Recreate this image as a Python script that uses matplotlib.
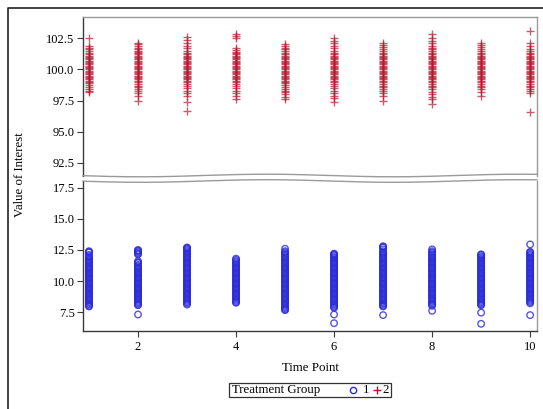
import numpy as np
import matplotlib
matplotlib.use("Agg")
import matplotlib.pyplot as plt
from matplotlib.lines import Line2D
from matplotlib.patches import Rectangle

plt.rcParams['font.family'] = ['Liberation Serif', 'DejaVu Serif']

time_points = [1, 2, 3, 4, 5, 6, 7, 8, 9, 10]

# group 1 (blue circles), one list per time point
grp1 = [
    [12.4, 12.35, 12.3, 12.1, 12.0, 11.9, 11.75, 11.7, 11.6, 11.5, 11.4, 11.3, 11.2, 11.1, 11.0, 10.9, 10.8, 10.7, 10.6, 10.5, 10.4, 10.3, 10.2, 10.1, 10.0, 9.9, 9.8, 9.7, 9.6, 9.5, 9.4, 9.3, 9.2, 9.1, 9.0, 8.9, 8.8, 8.7, 8.6, 8.5, 8.4, 8.3, 8.2, 8.1, 8.0, 7.95],
    [12.5, 12.45, 12.4, 12.3, 12.2, 12.15, 11.6, 11.5, 11.45, 11.3, 11.2, 11.1, 11.0, 10.9, 10.8, 10.7, 10.6, 10.5, 10.4, 10.3, 10.2, 10.1, 10.0, 9.9, 9.8, 9.7, 9.6, 9.5, 9.4, 9.3, 9.2, 9.1, 9.0, 8.9, 8.8, 8.7, 8.6, 8.5, 8.4, 8.3, 8.2, 8.1, 8.05, 7.3],
    [12.7, 12.65, 12.6, 12.5, 12.4, 12.3, 12.2, 12.1, 12.0, 11.9, 11.8, 11.7, 11.6, 11.5, 11.4, 11.3, 11.2, 11.1, 11.0, 10.9, 10.8, 10.7, 10.6, 10.5, 10.4, 10.3, 10.2, 10.1, 10.0, 9.9, 9.8, 9.7, 9.6, 9.5, 9.4, 9.3, 9.2, 9.1, 9.0, 8.9, 8.8, 8.7, 8.6, 8.5, 8.4, 8.3, 8.2, 8.1],
    [11.8, 11.7, 11.6, 11.5, 11.4, 11.3, 11.2, 11.1, 11.0, 10.9, 10.8, 10.7, 10.6, 10.5, 10.4, 10.3, 10.2, 10.1, 10.0, 9.9, 9.8, 9.7, 9.6, 9.5, 9.4, 9.3, 9.2, 9.1, 9.0, 8.9, 8.8, 8.7, 8.6, 8.5, 8.4, 8.3, 8.25],
    [12.6, 12.4, 12.3, 12.2, 12.1, 12.0, 11.9, 11.8, 11.7, 11.6, 11.5, 11.4, 11.3, 11.2, 11.1, 11.0, 10.9, 10.8, 10.7, 10.6, 10.5, 10.4, 10.3, 10.2, 10.1, 10.0, 9.9, 9.8, 9.7, 9.6, 9.5, 9.4, 9.3, 9.2, 9.1, 9.0, 8.9, 8.8, 8.7, 8.6, 8.5, 8.4, 8.3, 8.2, 8.1, 8.0, 7.9, 7.8, 7.7, 7.65],
    [12.2, 12.15, 12.1, 12.0, 11.9, 11.8, 11.7, 11.6, 11.5, 11.4, 11.3, 11.2, 11.1, 11.0, 10.9, 10.8, 10.7, 10.6, 10.5, 10.4, 10.3, 10.2, 10.1, 10.0, 9.9, 9.8, 9.7, 9.6, 9.5, 9.4, 9.3, 9.2, 9.1, 9.0, 8.9, 8.8, 8.7, 8.6, 8.5, 8.4, 8.3, 8.2, 8.1, 8.0, 7.9, 7.85, 7.3, 6.6],
    [12.8, 12.75, 12.7, 12.55, 12.4, 12.3, 12.2, 12.1, 12.0, 11.9, 11.8, 11.7, 11.6, 11.5, 11.4, 11.3, 11.2, 11.1, 11.0, 10.9, 10.8, 10.7, 10.6, 10.5, 10.4, 10.3, 10.2, 10.1, 10.0, 9.9, 9.8, 9.7, 9.6, 9.5, 9.4, 9.3, 9.2, 9.1, 9.0, 8.9, 8.8, 8.7, 8.6, 8.5, 8.4, 8.3, 8.2, 8.1, 8.0, 7.95, 7.25],
    [12.55, 12.4, 12.3, 12.2, 12.1, 12.0, 11.9, 11.8, 11.7, 11.6, 11.5, 11.4, 11.3, 11.2, 11.1, 11.0, 10.9, 10.8, 10.7, 10.6, 10.5, 10.4, 10.3, 10.2, 10.1, 10.0, 9.9, 9.8, 9.7, 9.6, 9.5, 9.4, 9.3, 9.2, 9.1, 9.0, 8.9, 8.8, 8.7, 8.6, 8.5, 8.4, 8.3, 8.2, 8.1, 8.0, 7.6],
    [12.15, 12.1, 12.0, 11.9, 11.8, 11.7, 11.6, 11.5, 11.4, 11.3, 11.2, 11.1, 11.0, 10.9, 10.8, 10.7, 10.6, 10.5, 10.4, 10.3, 10.2, 10.1, 10.0, 9.9, 9.8, 9.7, 9.6, 9.5, 9.4, 9.3, 9.2, 9.1, 9.0, 8.9, 8.8, 8.7, 8.6, 8.5, 8.4, 8.3, 8.2, 8.1, 8.05, 7.45, 6.55],
    [12.95, 12.35, 12.3, 12.2, 12.1, 12.0, 11.9, 11.8, 11.7, 11.6, 11.5, 11.4, 11.3, 11.2, 11.1, 11.0, 10.9, 10.8, 10.7, 10.6, 10.5, 10.4, 10.3, 10.2, 10.1, 10.0, 9.9, 9.8, 9.7, 9.6, 9.5, 9.4, 9.3, 9.2, 9.1, 9.0, 8.9, 8.8, 8.7, 8.6, 8.5, 8.4, 8.3, 8.2, 7.25],
]

# group 2 (red plus)
grp2 = [
    [102.55, 101.9, 101.75, 101.6, 101.45, 101.3, 101.2, 101.1, 101.0, 100.9, 100.8, 100.7, 100.6, 100.5, 100.4, 100.3, 100.2, 100.1, 100.0, 99.9, 99.8, 99.7, 99.6, 99.5, 99.4, 99.3, 99.2, 99.1, 99.0, 98.9, 98.75, 98.6, 98.45, 98.3, 98.2],
    [102.15, 102.0, 101.85, 101.7, 101.6, 101.5, 101.4, 101.3, 101.2, 101.1, 101.0, 100.9, 100.8, 100.7, 100.6, 100.5, 100.4, 100.3, 100.2, 100.1, 100.0, 99.9, 99.8, 99.7, 99.6, 99.5, 99.4, 99.3, 99.2, 99.1, 99.0, 98.85, 98.7, 98.55, 98.4, 98.25, 98.1, 97.85, 97.5],
    [102.6, 102.35, 102.1, 101.9, 101.7, 101.5, 101.35, 101.2, 101.1, 101.0, 100.9, 100.8, 100.7, 100.6, 100.5, 100.4, 100.3, 100.2, 100.1, 100.0, 99.9, 99.8, 99.7, 99.6, 99.5, 99.4, 99.3, 99.2, 99.1, 99.0, 98.85, 98.7, 98.5, 98.3, 98.1, 97.9, 97.4, 96.65],
    [102.8, 102.65, 102.5, 101.7, 101.55, 101.4, 101.3, 101.2, 101.1, 101.0, 100.9, 100.8, 100.7, 100.6, 100.5, 100.4, 100.3, 100.2, 100.1, 100.0, 99.9, 99.8, 99.7, 99.6, 99.5, 99.4, 99.3, 99.2, 99.1, 99.0, 98.85, 98.7, 98.5, 98.3, 98.1, 97.9, 97.6],
    [102.05, 101.9, 101.75, 101.6, 101.45, 101.3, 101.2, 101.1, 101.0, 100.9, 100.8, 100.7, 100.6, 100.5, 100.4, 100.3, 100.2, 100.1, 100.0, 99.9, 99.8, 99.7, 99.6, 99.5, 99.4, 99.3, 99.2, 99.1, 99.0, 98.9, 98.75, 98.6, 98.45, 98.3, 98.15, 98.0, 97.8, 97.6],
    [102.5, 102.3, 102.1, 101.9, 101.7, 101.5, 101.35, 101.2, 101.1, 101.0, 100.9, 100.8, 100.7, 100.6, 100.5, 100.4, 100.3, 100.2, 100.1, 100.0, 99.9, 99.8, 99.7, 99.6, 99.5, 99.4, 99.3, 99.2, 99.1, 99.0, 98.85, 98.7, 98.5, 98.3, 98.1, 97.9, 97.7, 97.4],
    [102.15, 101.95, 101.8, 101.6, 101.45, 101.3, 101.2, 101.1, 101.0, 100.9, 100.8, 100.7, 100.6, 100.5, 100.4, 100.3, 100.2, 100.1, 100.0, 99.9, 99.8, 99.7, 99.6, 99.5, 99.4, 99.3, 99.2, 99.1, 99.0, 98.85, 98.7, 98.55, 98.4, 98.25, 98.1, 97.9, 97.5],
    [102.8, 102.55, 102.3, 102.1, 101.9, 101.75, 101.6, 101.45, 101.3, 101.2, 101.1, 101.0, 100.9, 100.8, 100.7, 100.6, 100.5, 100.4, 100.3, 100.2, 100.1, 100.0, 99.9, 99.8, 99.7, 99.6, 99.5, 99.4, 99.3, 99.2, 99.1, 99.0, 98.85, 98.7, 98.55, 98.4, 98.2, 98.0, 97.8, 97.6, 97.25],
    [102.15, 101.95, 101.8, 101.65, 101.5, 101.35, 101.2, 101.1, 101.0, 100.9, 100.8, 100.7, 100.6, 100.5, 100.4, 100.3, 100.2, 100.1, 100.0, 99.9, 99.8, 99.7, 99.6, 99.5, 99.4, 99.3, 99.2, 99.1, 99.0, 98.85, 98.7, 98.55, 98.4, 98.2, 97.9],
    [103.1, 102.15, 101.85, 101.6, 101.45, 101.3, 101.2, 101.1, 101.0, 100.9, 100.8, 100.7, 100.6, 100.5, 100.4, 100.3, 100.2, 100.1, 100.0, 99.9, 99.8, 99.7, 99.6, 99.5, 99.4, 99.3, 99.2, 99.1, 99.0, 98.85, 98.7, 98.55, 98.4, 98.25, 98.1, 96.6],
]

upper_ticks = [92.5, 95.0, 97.5, 100.0, 102.5]
lower_ticks = [7.5, 10.0, 12.5, 15.0, 17.5]
x_ticks = [2, 4, 6, 8, 10]

blue = '#2b2bd9'
red = '#b5172f'
frame_gray = '#9a9a9a'
axis_dark = '#3a3a3a'

W, H = 543, 409
fig = plt.figure(figsize=(W / 100, H / 100), dpi=100)

def fx(px):
    return px / W

def fy(py):
    return 1 - py / H

left, right = 83, 537
ax_top = fig.add_axes([fx(left), fy(176), fx(right - left), fy(17) - fy(176)])
ax_bot = fig.add_axes([fx(left), fy(331), fx(right - left), fy(181) - fy(331)])

for t, vals in zip(time_points, grp2):
    ax_top.scatter([t] * len(vals), vals, marker='+', s=32, color=red,
                   linewidths=1.0, alpha=0.7, zorder=3)
for t, vals in zip(time_points, grp1):
    ax_bot.scatter([t] * len(vals), vals, marker='o', s=22, facecolors='none',
                   edgecolors=blue, linewidths=1.0, alpha=0.8, zorder=3)

for ax in (ax_top, ax_bot):
    ax.set_xlim(0.878, 10.14)
    ax.spines['left'].set_color(axis_dark)
    ax.spines['right'].set_color(frame_gray)
    ax.spines['top'].set_color(frame_gray)
    ax.spines['bottom'].set_color(axis_dark)
    for s in ax.spines.values():
        s.set_linewidth(1.0)
    ax.tick_params(axis='y', direction='out', length=4, width=0.8,
                   color=axis_dark, labelsize=9, pad=2)

ax_top.set_ylim(91.45, 104.2)
ax_top.set_yticks(upper_ticks)
ax_top.set_yticklabels([f'{v:.1f}' for v in upper_ticks])
ax_top.set_xticks([])
ax_top.spines['bottom'].set_visible(False)

ax_bot.set_ylim(5.97, 18.06)
ax_bot.set_yticks(lower_ticks)
ax_bot.set_yticklabels([f'{v:.1f}' for v in lower_ticks])
ax_bot.set_xticks(x_ticks)
ax_bot.tick_params(axis='x', direction='out', length=4, width=0.8,
                   color=axis_dark, labelsize=9, pad=3)
ax_bot.spines['top'].set_visible(False)

# wavy break lines
xs = np.linspace(left, right, 200)
wave = 1.3 * np.sin(2 * np.pi * (xs - 77) / 253)
for base in (175.5, 181):
    fig.add_artist(Line2D(fx(xs), fy(base + wave), color=frame_gray, lw=1.0))

fig.text(fx(20), fy(175), 'Value of Interest', rotation=90, ha='center',
         va='center', fontsize=9.3)
fig.text(fx(310), fy(368), 'Time Point', ha='center', va='center', fontsize=9.3)

# legend
fig.add_artist(Rectangle((fx(229), fy(397)), fx(391 - 229), fy(383) - fy(397),
                         fill=False, edgecolor='#333333', lw=0.9))
fig.text(fx(232), fy(390), 'Treatment Group', ha='left', va='center', fontsize=9.3)
fig.add_artist(Line2D([fx(353)], [fy(390)], marker='o', ms=4.5, mfc='none',
                      mec=blue, mew=1.0, ls='none'))
fig.text(fx(366), fy(390), '1', ha='center', va='center', fontsize=9.3)
fig.add_artist(Line2D([fx(377)], [fy(390)], marker='+', ms=5.5,
                      mec=red, mew=1.0, ls='none'))
fig.text(fx(386), fy(390), '2', ha='center', va='center', fontsize=9.3)

# outer frame
fig.add_artist(Line2D([fx(7.5), fx(7.5), fx(W)], [fy(H), fy(8), fy(8)],
                      color='#222222', lw=1.2))

fig.savefig('out.png', dpi=100)
